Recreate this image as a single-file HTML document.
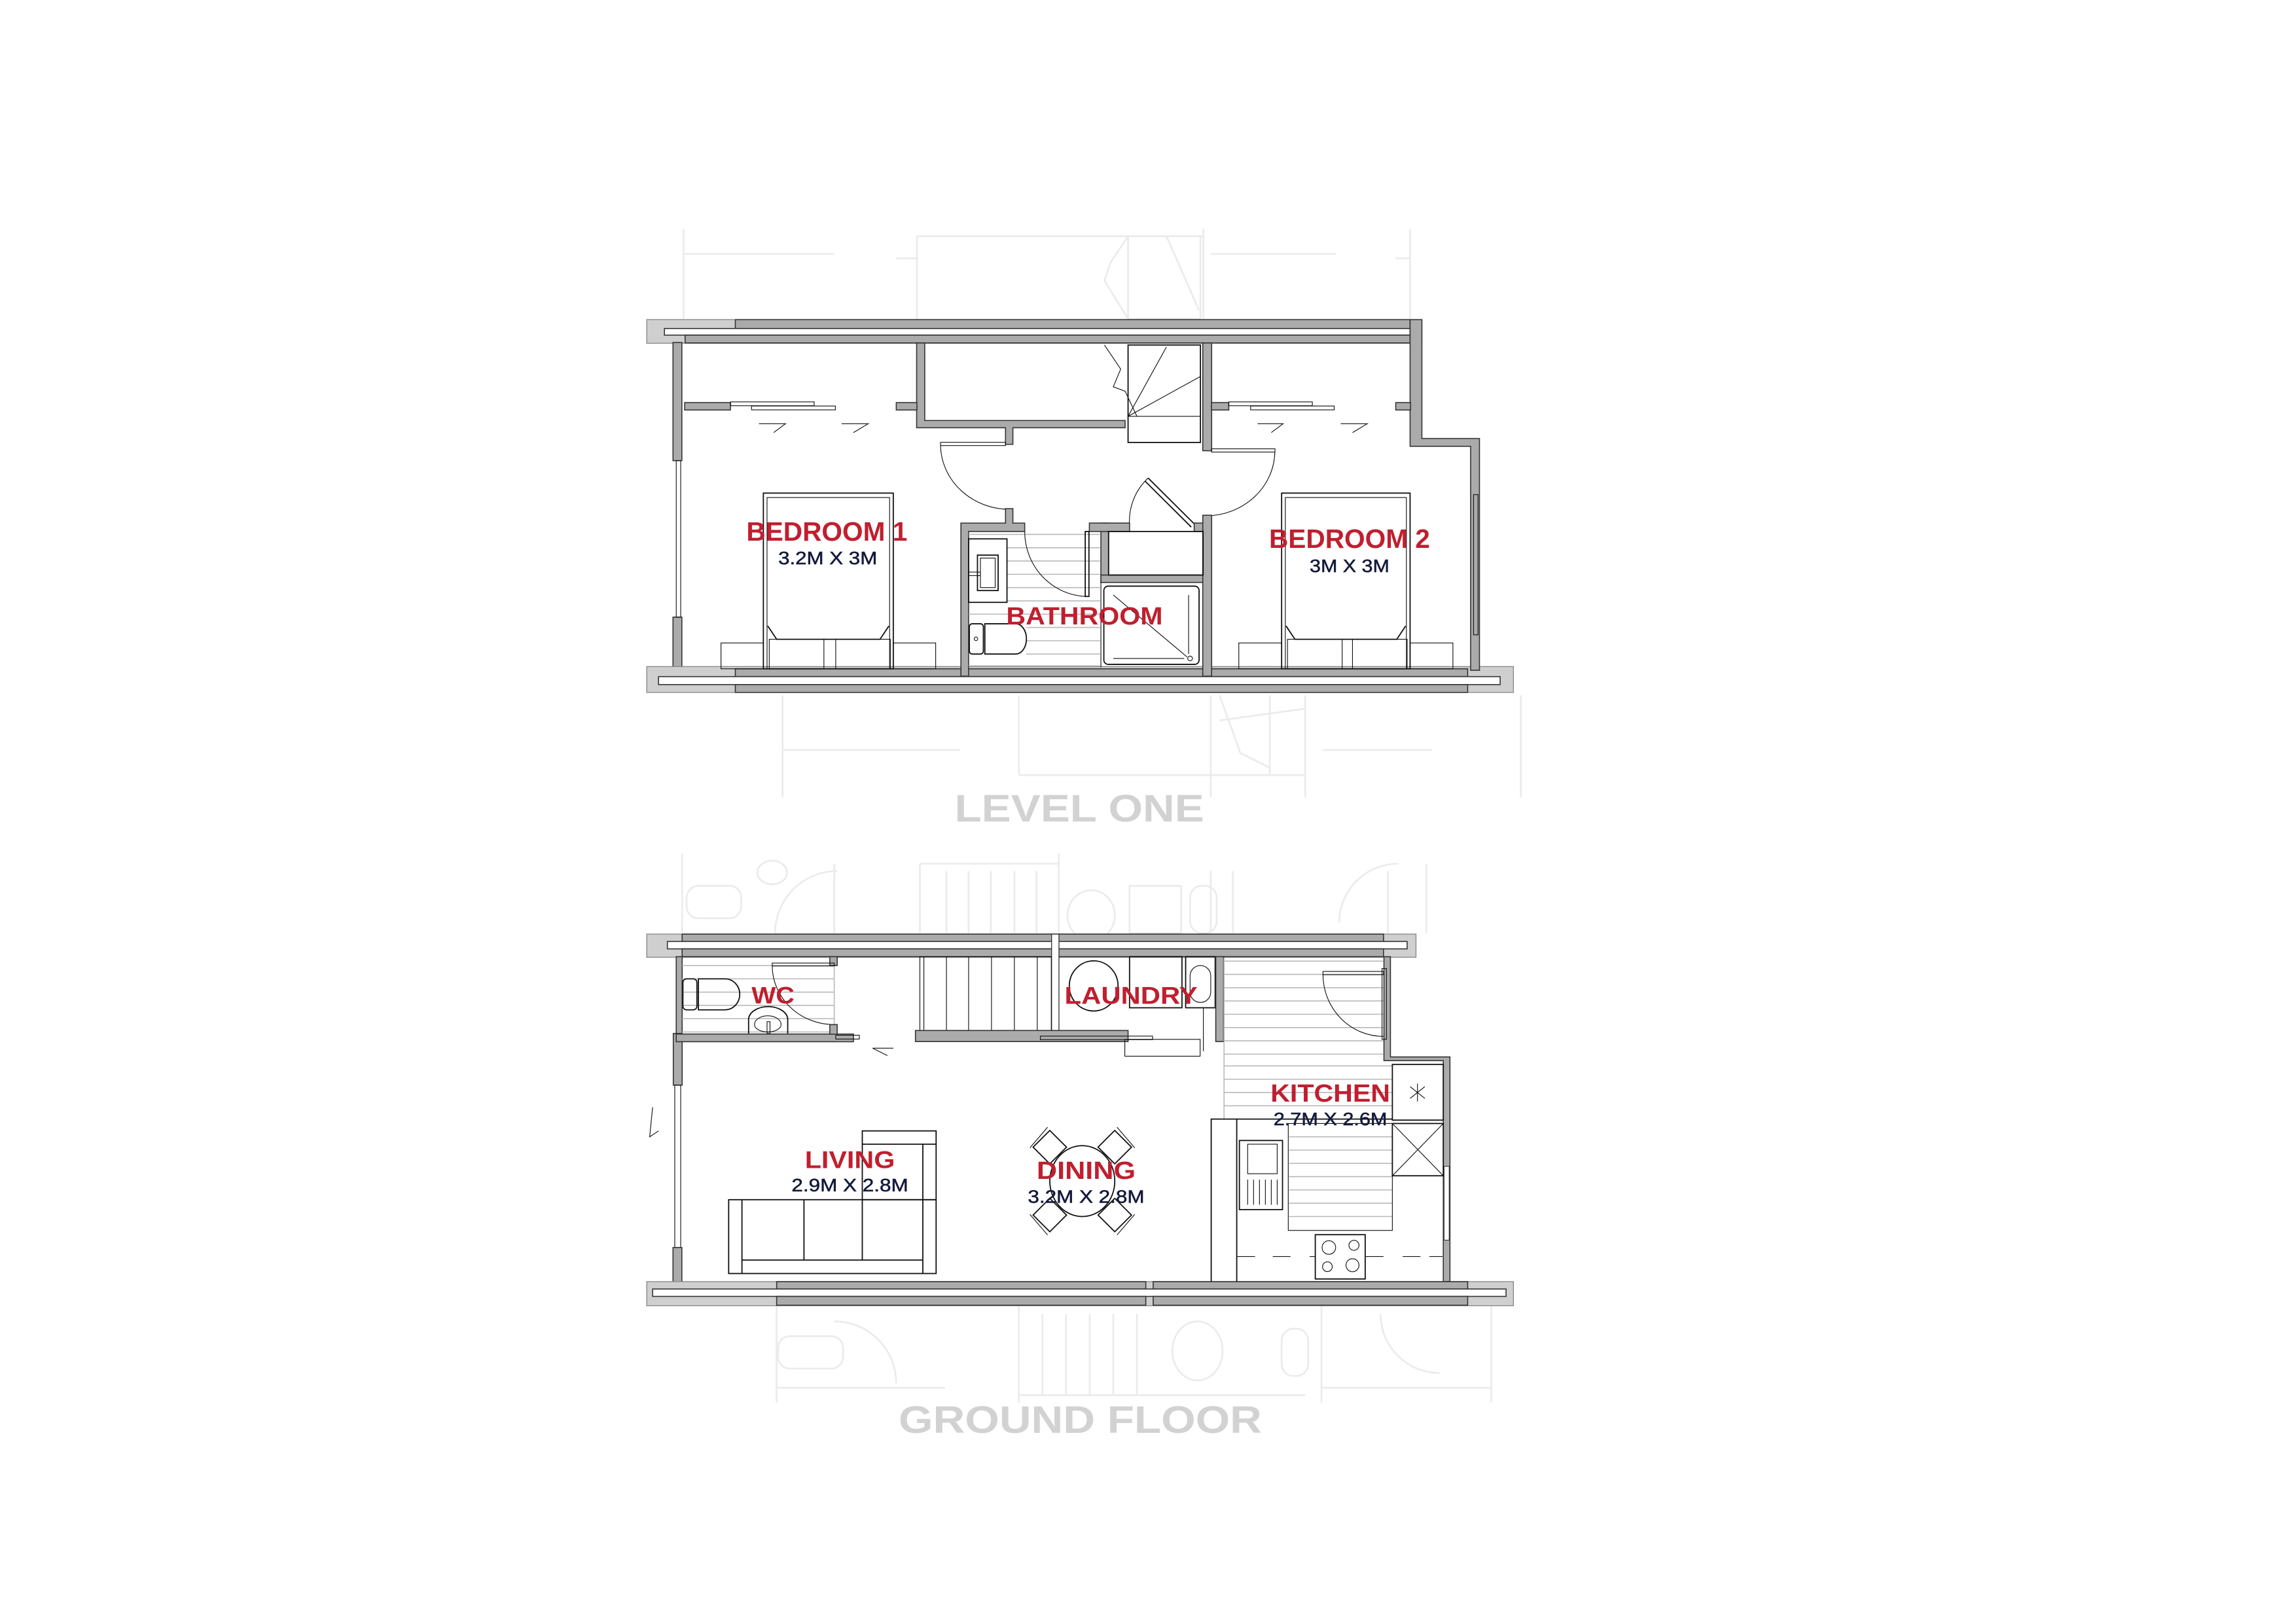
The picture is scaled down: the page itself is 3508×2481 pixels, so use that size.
<!DOCTYPE html>
<html><head><meta charset="utf-8"><style>
html,body{margin:0;padding:0;background:#fff}
svg{display:block}
.w{fill:#ababab;stroke:#333;stroke-width:0.7}
.wl{fill:#cfcfcf;stroke:#888;stroke-width:0.6}
.ws{fill:#fff;stroke:#333;stroke-width:0.7}
.l{fill:none;stroke:#111;stroke-width:0.8}
.t{fill:none;stroke:#111;stroke-width:0.5}
.h{stroke:#b8b8b8;stroke-width:0.7}
.g{fill:none;stroke:#ebebeb;stroke-width:1.2}
.r{font-family:"Liberation Sans",sans-serif;font-weight:bold;fill:#c01f2f;text-anchor:middle}
.n{font-family:"Liberation Sans",sans-serif;fill:#141a3c;text-anchor:middle;stroke:#141a3c;stroke-width:0.25}
.big{font-family:"Liberation Sans",sans-serif;font-weight:bold;fill:#d2d2d2;text-anchor:middle}
</style></head><body>
<svg width="3508" height="2481" viewBox="0 0 1555 1100" preserveAspectRatio="none" xmlns="http://www.w3.org/2000/svg">
<rect width="1555" height="1100" fill="#fff"/>

<g class="g">
<path d="M463 155 V216 M621 160 V216 M621 160 H815 M815 155 V216 M955 155 V216 M463 172 H565 M820 172 H905 M607 175 H621 M945 175 H955"/>
<path d="M764 216 L748 190 L752 178 L764 160 M764 160 V216 M764 216 H813 M813 160 V216 M790 160 L812 210"/>
<path d="M530 471 V540 M690 471 V525 M690 525 H884 M884 471 V540 M820 471 V540 M530 508 H650 M896 508 H970 M1030 471 V540"/>
<path d="M826 471 L840 510 L860 520 M860 471 V525 M826 488 L884 480"/>
</g>

<rect x="438" y="216.5" width="525" height="16" class="wl"/>
<rect x="498" y="216.5" width="457" height="6" class="w"/>
<rect x="450" y="222.5" width="505" height="4.5" class="ws"/>
<rect x="464" y="227" width="491" height="5.3" class="w"/>
<rect x="455.8" y="232" width="6" height="80" class="w"/>
<rect x="455.8" y="418" width="6" height="38" class="w"/>
<rect x="458" y="312" width="3" height="106" class="t"/>
<rect x="438" y="451.5" width="587" height="17.5" class="wl"/>
<rect x="498" y="453" width="496" height="5.3" class="w"/>
<rect x="446" y="458.3" width="570" height="5.4" class="ws"/>
<rect x="498" y="463.7" width="496" height="5.3" class="w"/>
<path d="M955 216.5 H963 V297 H1002 V454 H996 V302.3 H955 Z" class="w"/>
<rect x="998" y="335" width="3" height="95" class="t"/>
<path d="M620.8 232.3 H626.3 V284.8 H762 V289.7 H686 V301 H681 V289.7 H620.8 Z" class="w"/>
<rect x="764" y="233.7" width="49" height="66" class="l"/>
<path class="t" d="M748 233.7 L759 250 L754 262 L762 265 L770 282 M764 282 H813 M764 233.7 V282 M790 235 L764 282 M813 255 L764 282"/>
<rect x="814.6" y="232.3" width="6" height="73" class="w"/>
<rect x="463.7" y="272.7" width="31" height="5" class="w"/>
<rect x="494.8" y="272.2" width="56.6" height="2.6" class="t"/>
<rect x="509" y="275" width="56.8" height="2.6" class="t"/>
<rect x="607" y="272.7" width="14" height="5" class="w"/>
<rect x="820.5" y="272.7" width="11.7" height="5" class="w"/>
<rect x="832.2" y="272.2" width="56.6" height="2.6" class="t"/>
<rect x="847" y="275" width="56.6" height="2.6" class="t"/>
<rect x="945.3" y="272.7" width="10" height="5" class="w"/>
<path class="t" d="M514 287 H532 L524 293 M570 287 H588 L578 293 M851.7 287 H869 L861 293 M908 287 H926 L916 293"/>
<rect x="637" y="299.6" width="44" height="2.2" class="t"/>
<path class="t" d="M637 301 A47 44 0 0 0 684 345"/>
<rect x="820.5" y="304" width="43" height="2.2" class="t"/>
<path class="t" d="M863.4 306 A47 44 0 0 1 817 349.4"/>
<path class="l" d="M777.6 323.8 L808.8 354.8 M775.6 326 L806.8 357"/>
<path class="t" d="M765 356 A40 40 0 0 1 777.6 323.8"/>
<path d="M650.8 354.3 H681 V344.5 H686 V354.3 H694 V360 H656 V458 H650.8 Z" class="w"/>
<rect x="745.6" y="354.3" width="5.2" height="40.2" class="w"/>
<rect x="745.6" y="389.5" width="69.4" height="5" class="w"/>
<rect x="737.8" y="354.3" width="27.2" height="5.7" class="w"/>
<rect x="808.8" y="354.3" width="7" height="5.7" class="w"/>
<rect x="814.6" y="349" width="6" height="109" class="w"/>
<rect x="750.8" y="360" width="64" height="29.5" class="l"/>
<g class="h">
<line x1="656" y1="362" x2="745" y2="362"/><line x1="682" y1="371" x2="745" y2="371"/><line x1="682" y1="380" x2="745" y2="380"/><line x1="682" y1="389" x2="745" y2="389"/><line x1="682" y1="398" x2="745" y2="398"/><line x1="682" y1="407" x2="745" y2="407"/><line x1="656" y1="416" x2="745" y2="416"/><line x1="695" y1="425" x2="745" y2="425"/><line x1="695" y1="434" x2="745" y2="434"/><line x1="695" y1="443" x2="745" y2="443"/><line x1="656" y1="451" x2="745" y2="451"/>
</g>
<line x1="745.6" y1="394" x2="745.6" y2="452" class="t"/>
<rect x="735" y="360" width="2.5" height="44" class="l"/>
<path class="t" d="M694 360 A43 44 0 0 0 736 404"/>
<rect x="656" y="365" width="26" height="43" class="l"/>
<rect x="662" y="376" width="14" height="24" class="l"/>
<rect x="664" y="378" width="10" height="20" class="t"/>
<rect x="656" y="387.5" width="8" height="2.4" class="t"/>
<rect x="656.5" y="422.5" width="9.5" height="20.5" rx="2" class="l"/>
<path class="l" d="M667 422.5 H688 A7 10 0 0 1 688 443 H667 Z"/>
<circle cx="661" cy="432.7" r="1.2" class="t"/>
<rect x="747.6" y="397" width="64.5" height="53" rx="3" class="l"/>
<path class="t" d="M754 403 L804 445 M805 403 V443 M754 446 H802"/>
<circle cx="806" cy="446" r="1.6" class="t"/>
<rect x="517" y="334" width="88" height="119" class="l"/>
<rect x="519.5" y="337" width="83" height="116" class="t"/>
<path class="l" d="M520 424 L526 433 H596 L602 424"/>
<rect x="521" y="433" width="37" height="20" class="t"/>
<rect x="566" y="433" width="37" height="20" class="t"/>
<rect x="488.3" y="435.5" width="28.7" height="17.5" class="t"/>
<rect x="605" y="435.5" width="28.7" height="17.5" class="t"/>
<rect x="868" y="334" width="87" height="119" class="l"/>
<rect x="870.5" y="337" width="82" height="116" class="t"/>
<path class="l" d="M871 424 L877 433 H946 L952 424"/>
<rect x="872" y="433" width="37" height="20" class="t"/>
<rect x="916" y="433" width="37" height="20" class="t"/>
<rect x="839" y="435.5" width="29" height="17.5" class="t"/>
<rect x="955" y="435.5" width="29" height="17.5" class="t"/>

<text x="560" y="366.3" class="r" font-size="18" textLength="109" lengthAdjust="spacingAndGlyphs">BEDROOM 1</text>
<text x="560.6" y="382.2" class="n" font-size="12.5" textLength="67" lengthAdjust="spacingAndGlyphs">3.2M X 3M</text>
<text x="914" y="371" class="r" font-size="18" textLength="109" lengthAdjust="spacingAndGlyphs">BEDROOM 2</text>
<text x="914" y="387.6" class="n" font-size="12.5" textLength="54" lengthAdjust="spacingAndGlyphs">3M X 3M</text>
<text x="734.5" y="423" class="r" font-size="17" textLength="106" lengthAdjust="spacingAndGlyphs">BATHROOM</text>
<text x="731" y="556.5" class="big" font-size="26" textLength="169" lengthAdjust="spacingAndGlyphs">LEVEL ONE</text>

<g class="g">
<path d="M462 578 V632 M565 585 V632 M623 585 V632 M623 585 H717 M717 578 V632 M820 590 V632 M835 590 V632 M940 590 V632 M966 585 V632"/>
<path d="M641 590 V632 M656 590 V632 M671 590 V632 M687 590 V632 M702 590 V632"/>
<ellipse cx="739" cy="620" rx="16" ry="17"/><rect x="765" y="600" width="35" height="32"/><rect x="806" y="600" width="18" height="32" rx="8"/>
<rect x="465" y="600" width="37" height="22" rx="8"/><ellipse cx="523" cy="591" rx="10" ry="8"/>
<path d="M525 632 A42 42 0 0 1 567 590 M907 625 A40 40 0 0 1 947 585"/>
<path d="M526 884 V950 M690 884 V950 M895 884 V950 M1010 884 V950 M706 890 V945 M722 890 V945 M738 890 V945 M754 890 V945 M770 890 V945"/>
<rect x="527" y="905" width="44" height="22" rx="8"/><ellipse cx="811" cy="915" rx="17" ry="20"/><rect x="868" y="900" width="18" height="32" rx="8"/>
<path d="M565 895 A42 42 0 0 1 607 937 M935 890 A40 40 0 0 0 975 930 M690 945 H884 M526 940 H640 M895 940 H1010"/>
</g>

<rect x="438" y="632.7" width="521" height="15.7" class="wl"/>
<rect x="462" y="632.7" width="475" height="5" class="w"/>
<rect x="452" y="637.7" width="501" height="5" class="ws"/>
<rect x="462" y="642.7" width="475" height="5.3" class="w"/>
<rect x="712.2" y="632.7" width="5" height="68" fill="#fff" stroke="#333" stroke-width="0.6"/>
<rect x="458" y="648" width="4" height="54" class="w"/>
<rect x="456" y="700" width="6" height="35" class="w"/>
<rect x="457" y="735" width="4" height="110" class="t"/>
<rect x="455.8" y="845" width="6" height="25" class="w"/>
<path class="t" d="M442 750 L440 770 L446 766"/>
<rect x="438" y="868.1" width="587" height="16.3" class="wl"/>
<rect x="526" y="868.1" width="250" height="5" class="w"/>
<rect x="781" y="868.1" width="213" height="5" class="w"/>
<rect x="442" y="873.1" width="578" height="5" class="ws"/>
<rect x="526" y="878.1" width="250" height="6" class="w"/>
<rect x="781" y="878.1" width="213" height="6" class="w"/>
<path d="M937.3 648 H941.7 V715.9 H982 V868 H977.5 V718.4 H937.3 Z" class="w"/>
<rect x="978" y="790" width="3.5" height="50" fill="#fff" stroke="#333" stroke-width="0.5"/>
<g class="h">
<line x1="462" y1="654" x2="565" y2="654"/><line x1="462" y1="663" x2="565" y2="663"/><line x1="462" y1="672" x2="565" y2="672"/><line x1="462" y1="681" x2="565" y2="681"/><line x1="462" y1="690" x2="565" y2="690"/><line x1="462" y1="699" x2="565" y2="699"/>
</g>
<line x1="565" y1="650" x2="565" y2="700" class="h"/>
<rect x="458" y="700.4" width="120" height="5.2" class="w"/>
<rect x="562" y="648" width="5" height="6" class="w"/>
<rect x="523" y="652.3" width="42" height="2" class="t"/>
<path class="t" d="M523 654 A42 40 0 0 0 565 694"/>
<rect x="562" y="694" width="5" height="6.5" class="w"/>
<rect x="566" y="701.2" width="16" height="2.6" class="t"/>
<rect x="462.5" y="663" width="9.5" height="21" rx="2.5" class="l" fill="#fff"/>
<path class="l" d="M473 663 H491 A10 10.5 0 0 1 491 684 H473 Z" fill="#fff"/>
<path class="l" d="M507 700 V690 A13.3 9 0 0 1 533.5 690 V700" fill="#fff"/>
<path class="t" d="M511 694 A9 6 0 0 1 529 694 A9 5 0 0 1 511 694"/>
<rect x="519.5" y="692" width="2" height="8" class="t"/>
<path class="t" d="M591 710 H605 M591 710 L601 715"/>
<rect x="623" y="648" width="89" height="50" class="t"/>
<path class="t" d="M625.7 648 V698 M641 648 V698 M656 648 V698 M671.5 648 V698 M687 648 V698 M702.5 648 V698"/>
<rect x="620" y="698" width="144" height="7.5" class="w"/>
<rect x="704.6" y="701.8" width="76" height="2.4" class="t" fill="#fff"/>
<ellipse cx="740.7" cy="667.8" rx="16.5" ry="17" class="l"/>
<rect x="765" y="648" width="35.5" height="34.6" class="l"/>
<rect x="803" y="648" width="20" height="34.6" class="l"/>
<rect x="806" y="654" width="14" height="25" rx="7" class="t"/>
<rect x="823.4" y="648" width="5.3" height="57.5" class="w"/>
<rect x="761.8" y="704" width="51" height="11.4" class="t"/>
<line x1="815" y1="682.6" x2="815" y2="712" class="t"/>
<g class="h">
<line x1="829" y1="651" x2="937" y2="651"/><line x1="829" y1="660" x2="937" y2="660"/><line x1="829" y1="669" x2="937" y2="669"/><line x1="829" y1="678" x2="937" y2="678"/><line x1="829" y1="687" x2="937" y2="687"/><line x1="829" y1="696" x2="937" y2="696"/><line x1="829" y1="705" x2="937" y2="705"/><line x1="829" y1="714" x2="937" y2="714"/><line x1="829" y1="722" x2="943" y2="722"/><line x1="829" y1="731" x2="943" y2="731"/><line x1="829" y1="740" x2="943" y2="740"/><line x1="829" y1="749" x2="943" y2="749"/>
<line x1="829" y1="649" x2="829" y2="758"/>
<line x1="873" y1="770" x2="943" y2="770"/><line x1="873" y1="779" x2="943" y2="779"/><line x1="873" y1="788" x2="943" y2="788"/><line x1="873" y1="797" x2="943" y2="797"/><line x1="873" y1="806" x2="943" y2="806"/><line x1="873" y1="815" x2="943" y2="815"/><line x1="873" y1="824" x2="943" y2="824"/>
</g>
<rect x="872.5" y="761" width="70.5" height="72.4" class="t"/>
<rect x="896" y="658" width="41" height="2.2" class="t"/>
<path class="t" d="M896 660 A41 42 0 0 0 937 702"/>
<rect x="936" y="656" width="3" height="48" class="t"/>
<rect x="943" y="721" width="34.5" height="37.7" class="l"/>
<path class="t" d="M960 734 V746 M955 736 L965 744 M965 736 L955 744"/>
<rect x="943" y="761" width="34.5" height="35.4" class="l"/>
<path class="t" d="M943 761 L977.5 796.4 M977.5 761 L943 796.4"/>
<path class="l" d="M820.3 868 V758 H943 M837.6 758 V868"/>
<rect x="839.4" y="772.5" width="29.2" height="46.8" class="l"/>
<rect x="845" y="775" width="20" height="20" class="t"/>
<path class="t" d="M845 799 V816 M849 799 V816 M853 799 V816 M857 799 V816 M861 799 V816 M865 799 V816"/>
<rect x="890.8" y="836.3" width="33.8" height="30" class="l"/>
<circle cx="900" cy="845" r="4.6" class="t"/><circle cx="917" cy="843.5" r="3.4" class="t"/>
<circle cx="899" cy="858" r="3.3" class="t"/><circle cx="916" cy="857" r="4.4" class="t"/>
<path class="t" d="M838 851.1 H850 M862 851.1 H874 M887 851.1 H891 M925 851.1 H937 M950 851.1 H962 M968 851.1 H977"/>
<rect x="493.5" y="812.6" width="140.5" height="50" class="l"/>
<path class="l" d="M502.5 812.6 V862.5 M625 812.6 V862.5 M502.5 853.5 H625 M544.5 812.6 V853.5 M584 812.6 V853.5"/>
<rect x="584" y="766" width="50" height="46.6" class="l"/>
<path class="l" d="M584 775 H634 M625 775 V812.6"/>
<g class="l" fill="#fff">
<rect x="-8" y="-8" width="16" height="16" transform="translate(711 777) rotate(45)"/>
<rect x="-8" y="-8" width="16" height="16" transform="translate(755 777) rotate(45)"/>
<rect x="-8" y="-8" width="16" height="16" transform="translate(711 823) rotate(45)"/>
<rect x="-8" y="-8" width="16" height="16" transform="translate(755 823) rotate(45)"/>
</g>
<path class="t" d="M697.5 777.5 L709.5 763.5 M768.5 777.5 L756.5 763.5 M697.5 822.5 L709.5 836.5 M768.5 822.5 L756.5 836.5"/>
<ellipse cx="733" cy="800" rx="22" ry="24" class="l" fill="#fff"/>

<text x="523.5" y="679.6" class="r" font-size="16" textLength="29" lengthAdjust="spacingAndGlyphs">WC</text>
<text x="766" y="680" class="r" font-size="16.5" textLength="90" lengthAdjust="spacingAndGlyphs">LAUNDRY</text>
<text x="901" y="746.2" class="r" font-size="17" textLength="81" lengthAdjust="spacingAndGlyphs">KITCHEN</text>
<text x="901" y="762.1" class="n" font-size="12.5" textLength="77" lengthAdjust="spacingAndGlyphs">2.7M X 2.6M</text>
<text x="575.6" y="791.2" class="r" font-size="16.5" textLength="61" lengthAdjust="spacingAndGlyphs">LIVING</text>
<text x="575.6" y="806.9" class="n" font-size="12.5" textLength="79" lengthAdjust="spacingAndGlyphs">2.9M X 2.8M</text>
<text x="735.6" y="798.6" class="r" font-size="17" textLength="67" lengthAdjust="spacingAndGlyphs">DINING</text>
<text x="735.6" y="814.6" class="n" font-size="12.5" textLength="79" lengthAdjust="spacingAndGlyphs">3.2M X 2.8M</text>
<text x="731.6" y="970.5" class="big" font-size="26" textLength="246" lengthAdjust="spacingAndGlyphs">GROUND FLOOR</text>
</svg>
</body></html>
